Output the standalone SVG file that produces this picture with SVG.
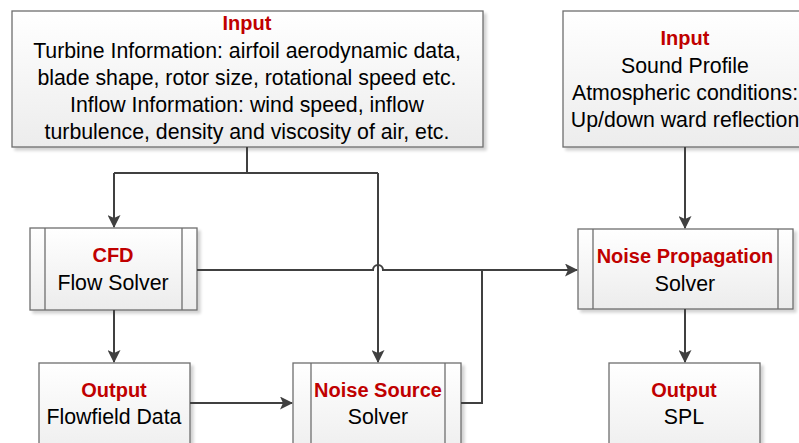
<svg xmlns="http://www.w3.org/2000/svg" width="799" height="443" viewBox="0 0 799 443">
<defs>
<linearGradient id="g" x1="0" y1="0" x2="0" y2="1">
<stop offset="0" stop-color="#ffffff"/>
<stop offset="1" stop-color="#ececec"/>
</linearGradient>
<marker id="ah" markerWidth="13" markerHeight="13" refX="12" refY="6.5" orient="auto" markerUnits="userSpaceOnUse">
<path d="M0,0 L13,6.5 L0,13 L3,6.5 Z" fill="#404040"/>
</marker>
<filter id="sh" x="-5%" y="-5%" width="115%" height="115%">
<feOffset dx="3" dy="3" in="SourceAlpha" result="o"/>
<feGaussianBlur in="o" stdDeviation="1.5" result="b"/>
<feComponentTransfer in="b" result="c"><feFuncA type="linear" slope="0.18"/></feComponentTransfer>
<feMerge><feMergeNode in="c"/><feMergeNode in="SourceGraphic"/></feMerge>
</filter>
</defs>
<style>
.box{fill:url(#g);stroke:#6e6e6e;stroke-width:1.3;filter:url(#sh)}
.in{stroke:#6e6e6e;stroke-width:1.3;fill:none}
.t{font-family:"Liberation Sans",Arial,sans-serif;font-size:21.3px;fill:#000;text-anchor:middle}
.h{font-family:"Liberation Sans",Arial,sans-serif;font-size:20px;font-weight:bold;fill:#c00000;text-anchor:middle}
.c{stroke:#404040;stroke-width:2;fill:none}
</style>
<rect width="799" height="443" fill="#ffffff"/>

<g id="input1">
<rect class="box" x="12" y="11" width="471" height="136"/>
<text class="h" x="247" y="30">Input</text>
<text class="t" x="247" y="58">Turbine Information: airfoil aerodynamic data,</text>
<text class="t" x="247" y="85">blade shape, rotor size, rotational speed etc.</text>
<text class="t" x="247" y="112">Inflow Information: wind speed, inflow</text>
<text class="t" x="247" y="139">turbulence, density and viscosity of air, etc.</text>
</g>

<g id="input2">
<rect class="box" x="563" y="11" width="250" height="136"/>
<text class="h" x="685" y="45">Input</text>
<text class="t" x="685" y="73">Sound Profile</text>
<text class="t" x="685" y="100">Atmospheric conditions:</text>
<text class="t" x="685" y="127">Up/down ward reflection</text>
</g>

<g id="cfd">
<rect class="box" x="30" y="228" width="167" height="82"/>
<line class="in" x1="45" y1="228" x2="45" y2="310"/>
<line class="in" x1="182" y1="228" x2="182" y2="310"/>
<text class="h" x="113" y="262">CFD</text>
<text class="t" x="113" y="290">Flow Solver</text>
</g>

<g id="propagation">
<rect class="box" x="578" y="229" width="215" height="80"/>
<line class="in" x1="593" y1="229" x2="593" y2="309"/>
<line class="in" x1="778" y1="229" x2="778" y2="309"/>
<text class="h" x="685" y="263">Noise Propagation</text>
<text class="t" x="685" y="291">Solver</text>
</g>

<g id="output1">
<rect class="box" x="39" y="363" width="151" height="100"/>
<text class="h" x="114" y="397">Output</text>
<text class="t" x="114" y="424">Flowfield Data</text>
</g>

<g id="source">
<rect class="box" x="293" y="363" width="168" height="100"/>
<line class="in" x1="311" y1="363" x2="311" y2="463"/>
<line class="in" x1="445" y1="363" x2="445" y2="463"/>
<text class="h" x="378" y="397">Noise Source</text>
<text class="t" x="378" y="424">Solver</text>
</g>

<g id="output2">
<rect class="box" x="609" y="363" width="151" height="100"/>
<text class="h" x="684" y="397">Output</text>
<text class="t" x="684" y="424">SPL</text>
</g>

<g id="connectors">
<path class="c" d="M247,147 V173 M114,173 H378"/>
<path class="c" d="M114,173 V227" marker-end="url(#ah)"/>
<path class="c" d="M378,173 V362" marker-end="url(#ah)"/>
<path class="c" d="M197,270 H373 A5,5 0 0 1 383,270 H577" marker-end="url(#ah)"/>
<path class="c" d="M461,403 H482 V270"/>
<path class="c" d="M685,147 V228" marker-end="url(#ah)"/>
<path class="c" d="M114,310 V362" marker-end="url(#ah)"/>
<path class="c" d="M190,403 H292" marker-end="url(#ah)"/>
<path class="c" d="M685,309 V362" marker-end="url(#ah)"/>
</g>
</svg>
